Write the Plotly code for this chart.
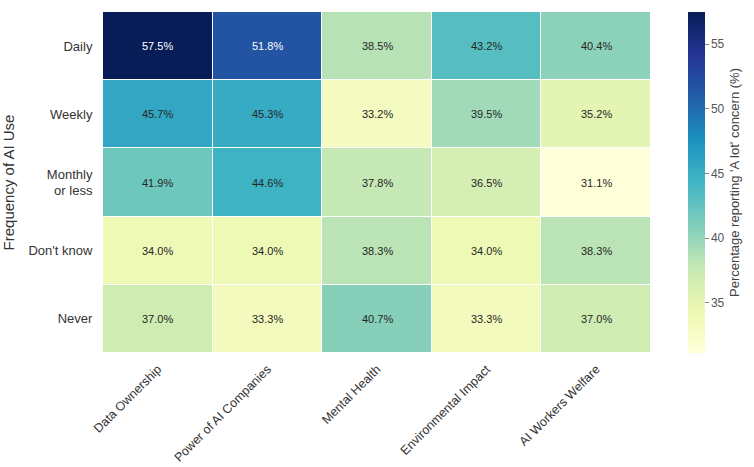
import plotly.graph_objects as go

categories = ["Data Ownership", "Power of AI Companies", "Mental Health", "Environmental Impact", "AI Workers Welfare"]
frequencies = ["Daily", "Weekly", "Monthly<br>or less", "Don't know", "Never"]
values = [
    [57.5, 51.8, 38.5, 43.2, 40.4],
    [45.7, 45.3, 33.2, 39.5, 35.2],
    [41.9, 44.6, 37.8, 36.5, 31.1],
    [34.0, 34.0, 38.3, 34.0, 38.3],
    [37.0, 33.3, 40.7, 33.3, 37.0],
]
colorbar_ticks = [35, 40, 45, 50, 55]

zmin = min(min(r) for r in values)
zmax = max(max(r) for r in values)

fig = go.Figure()
fig.add_trace(go.Heatmap(
    z=values, x=categories, y=frequencies,
    colorscale="YlGnBu", zmin=zmin, zmax=zmax,
    xgap=1, ygap=1,
    colorbar=dict(
        title=dict(text="Percentage reporting 'A lot' concern (%)", side="right",
                   font=dict(size=13, color="#444")),
        tickvals=colorbar_ticks, ticks="outside", ticklen=4, tickcolor="#888",
        tickfont=dict(size=12, color="#555"),
        thickness=17, len=1, lenmode="fraction", y=0.5, yanchor="middle",
        x=1.068, xanchor="left", xpad=0, ypad=0, outlinewidth=0,
    ),
    showscale=True,
))

annotations = []
for i, row in enumerate(values):
    for j, v in enumerate(row):
        annotations.append(dict(
            x=categories[j], y=frequencies[i], text=f"{v:.1f}%", showarrow=False,
            font=dict(size=11, color="white" if v > 50 else "#262626"),
        ))

fig.update_layout(
    width=754, height=467,
    margin=dict(l=103, r=97, t=12, b=114),
    paper_bgcolor="white", plot_bgcolor="white",
    font=dict(family="Liberation Sans, Arial, sans-serif", color="#333"),
    annotations=annotations,
    xaxis=dict(tickangle=-45, tickfont=dict(size=12.5, color="#333"), showgrid=False,
               ticks="outside", ticklen=3, tickcolor="rgba(0,0,0,0)", zeroline=False, automargin=False),
    yaxis=dict(autorange="reversed", tickfont=dict(size=13, color="#333"),
               ticks="outside", ticklen=7, tickcolor="rgba(0,0,0,0)",
               title=dict(text="Frequency of AI Use", font=dict(size=15, color="#333"), standoff=12),
               showgrid=False, zeroline=False, automargin=False),
)

fig.write_html("out.html")
